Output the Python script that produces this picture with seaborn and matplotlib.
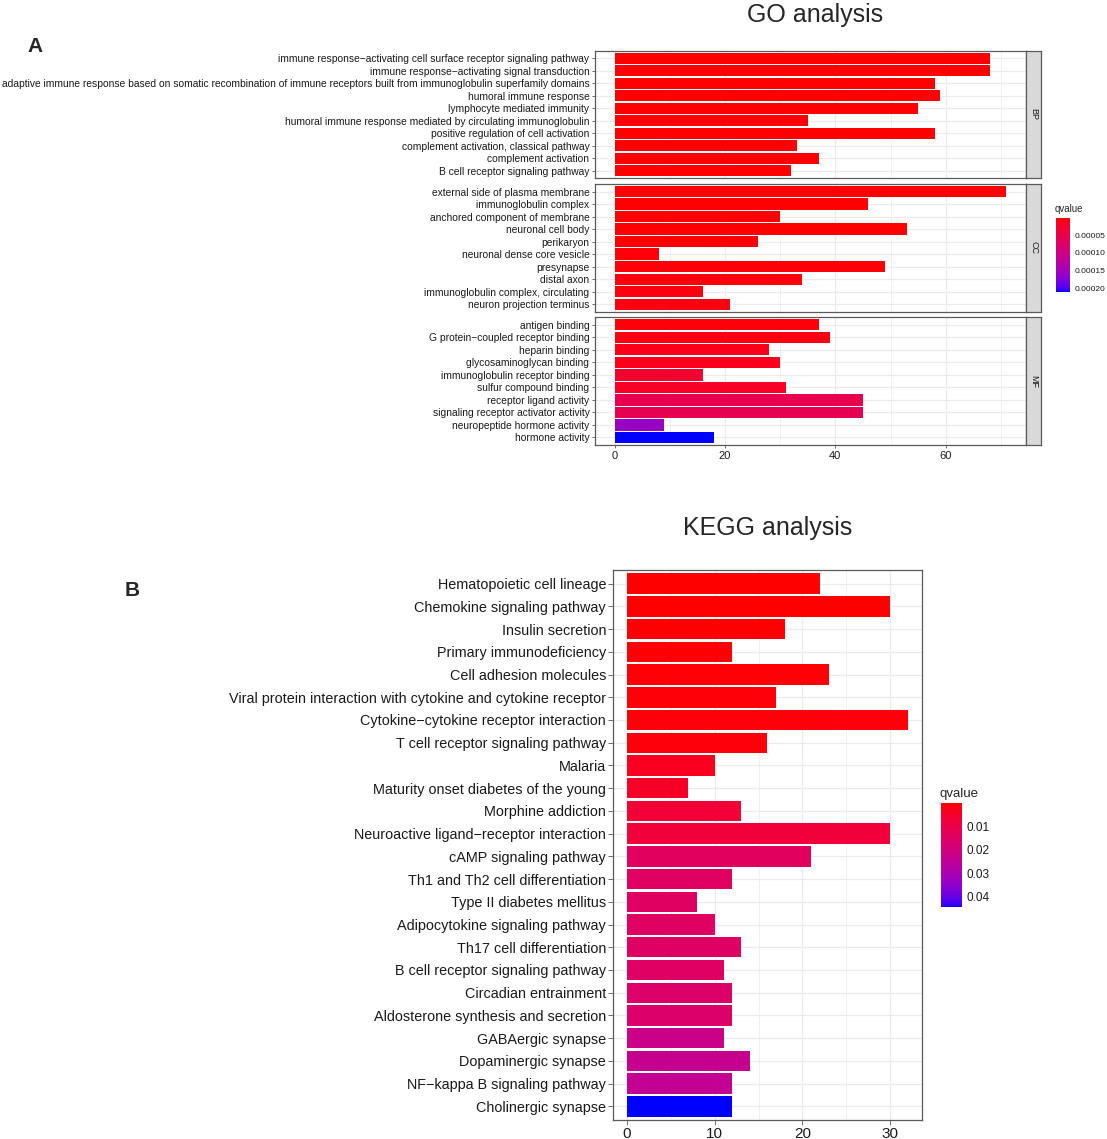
import numpy as np
import pandas as pd
import matplotlib
matplotlib.use("Agg")
import matplotlib.pyplot as plt
import seaborn as sns
from matplotlib.colors import ListedColormap, Normalize
from matplotlib.ticker import MultipleLocator

# ---------------- data ----------------
bp_terms = ["immune response\u2212activating cell surface receptor signaling pathway",
            "immune response\u2212activating signal transduction",
            "adaptive immune response based on somatic recombination of immune receptors built from immunoglobulin superfamily domains",
            "humoral immune response",
            "lymphocyte mediated immunity",
            "humoral immune response mediated by circulating immunoglobulin",
            "positive regulation of cell activation",
            "complement activation, classical pathway",
            "complement activation",
            "B cell receptor signaling pathway"]
bp_count = [68, 68, 58, 59, 55, 35, 58, 33, 37, 32]
bp_q = [1.2e-9, 2e-9, 5e-9, 8e-9, 1.5e-8, 3e-8, 5e-8, 1e-7, 2e-7, 4e-7]

cc_terms = ["external side of plasma membrane", "immunoglobulin complex",
            "anchored component of membrane", "neuronal cell body", "perikaryon",
            "neuronal dense core vesicle", "presynapse", "distal axon",
            "immunoglobulin complex, circulating", "neuron projection terminus"]
cc_count = [71, 46, 30, 53, 26, 8, 49, 34, 16, 21]
cc_q = [1e-8, 3e-8, 5e-7, 8e-7, 1.5e-6, 2.5e-6, 3e-6, 4e-6, 5e-6, 7e-6]

mf_terms = ["antigen binding", "G protein\u2212coupled receptor binding", "heparin binding",
            "glycosaminoglycan binding", "immunoglobulin receptor binding",
            "sulfur compound binding", "receptor ligand activity",
            "signaling receptor activator activity", "neuropeptide hormone activity",
            "hormone activity"]
mf_count = [37, 39, 28, 30, 16, 31, 45, 45, 9, 18]
mf_q = [4e-6, 6e-6, 1.0e-5, 1.3e-5, 2.6e-5, 1.8e-5, 5.2e-5, 5.5e-5, 1.58e-4, 2.1e-4]

kegg_terms = ["Hematopoietic cell lineage", "Chemokine signaling pathway", "Insulin secretion",
              "Primary immunodeficiency", "Cell adhesion molecules",
              "Viral protein interaction with cytokine and cytokine receptor",
              "Cytokine\u2212cytokine receptor interaction", "T cell receptor signaling pathway",
              "Malaria", "Maturity onset diabetes of the young", "Morphine addiction",
              "Neuroactive ligand\u2212receptor interaction", "cAMP signaling pathway",
              "Th1 and Th2 cell differentiation", "Type II diabetes mellitus",
              "Adipocytokine signaling pathway", "Th17 cell differentiation",
              "B cell receptor signaling pathway", "Circadian entrainment",
              "Aldosterone synthesis and secretion", "GABAergic synapse",
              "Dopaminergic synapse", "NF\u2212kappa B signaling pathway", "Cholinergic synapse"]
kegg_count = [22, 30, 18, 12, 23, 17, 32, 16, 10, 7, 13, 30, 21, 12, 8, 10, 13, 11, 12, 12, 11, 14, 12, 12]
kegg_q = [1.5e-5, 1e-4, 2e-4, 3e-4, 4e-4, 6e-4, 8e-4, 1e-3, 3e-3, 4e-3, 6.5e-3, 7e-3, 1.4e-2,
          1.45e-2, 1.45e-2, 1.47e-2, 1.5e-2, 1.5e-2, 1.58e-2, 1.62e-2, 2.2e-2, 2.35e-2, 2.4e-2, 4.43e-2]

go_ticks = [0.00005, 0.00010, 0.00015, 0.00020]
kegg_ticks = [0.01, 0.02, 0.03, 0.04]

# ---------------- red -> blue gradient in Lab (like ggplot) ----------------
M = np.array([[0.4124, 0.3576, 0.1805], [0.2126, 0.7152, 0.0722], [0.0193, 0.1192, 0.9505]])
WHITE = np.array([0.95047, 1.0, 1.08883])


def to_lab(rgb):
    c = np.asarray(rgb, float)
    lin = np.where(c <= 0.04045, c / 12.92, ((c + 0.055) / 1.055) ** 2.4)
    t = (M @ lin) / WHITE
    f = np.where(t > (6 / 29) ** 3, np.cbrt(t), t / (3 * (6 / 29) ** 2) + 4 / 29)
    return np.array([116 * f[1] - 16, 500 * (f[0] - f[1]), 200 * (f[1] - f[2])])


def from_lab(lab):
    L, a, b = lab
    fy = (L + 16) / 116
    f = np.array([fy + a / 500, fy, fy - b / 200])
    t = np.where(f > 6 / 29, f ** 3, 3 * (6 / 29) ** 2 * (f - 4 / 29))
    lin = np.clip(np.linalg.inv(M) @ (t * WHITE), 0, 1)
    c = np.where(lin <= 0.0031308, 12.92 * lin, 1.055 * lin ** (1 / 2.4) - 0.055)
    return np.clip(c, 0, 1)


lab_lo, lab_hi = to_lab([1, 0, 0]), to_lab([0, 0, 1])
cmap = ListedColormap([from_lab(lab_lo + (lab_hi - lab_lo) * s) for s in np.linspace(0, 1, 256)])

# ---------------- figure ----------------
sns.set_style("white")
plt.rcParams['font.family'] = ['Liberation Sans', 'DejaVu Sans']
W, H = 1107, 1139
fig = plt.figure(figsize=(W / 100, H / 100), dpi=100)


def box(l, t, r, b):
    return [l / W, 1 - b / H, (r - l) / W, (b - t) / H]


EDGE = "#5a5a5a"
GRID = "#EBEBEB"


def draw_bars(ax, terms, counts, qs, norm, xmax, major, minor, ysize, xsize, tlen):
    df = pd.DataFrame({"term": terms, "count": counts, "q": qs})
    pal = {t: cmap(norm(q)) for t, q in zip(terms, qs)}
    sns.barplot(data=df, x="count", y="term", hue="term", palette=pal, order=terms,
                hue_order=terms, dodge=False, legend=False, width=0.9, linewidth=0,
                saturation=1, ax=ax)
    ax.set_xlim(-xmax * 0.05, xmax * 1.05)
    ax.set_ylim(len(terms) - 1 + 0.6, -0.6)
    ax.xaxis.set_major_locator(MultipleLocator(major))
    ax.xaxis.set_minor_locator(MultipleLocator(minor))
    ax.set_axisbelow(True)
    ax.grid(True, which="major", color=GRID, lw=0.9)
    ax.grid(True, which="minor", axis="x", color=GRID, lw=0.5)
    ax.set_xlabel("")
    ax.set_ylabel("")
    ax.tick_params(axis="y", labelsize=ysize, length=tlen, width=0.6, color=EDGE, pad=1.5,
                   left=True, labelcolor="#1a1a1a")
    ax.tick_params(axis="x", labelsize=xsize, length=tlen, width=0.6, color=EDGE, pad=1.5,
                   bottom=True, labelcolor="#1a1a1a")
    ax.tick_params(which="minor", length=0)
    for s in ax.spines.values():
        s.set_visible(True)
        s.set_color(EDGE)
        s.set_linewidth(0.9)


def colorbar(cax, norm, ticks, fmt, lsize, tsize, length):
    cb = fig.colorbar(plt.cm.ScalarMappable(norm=norm, cmap=cmap), cax=cax)
    cb.outline.set_visible(False)
    cax.invert_yaxis()
    cb.set_ticks(ticks)
    cb.set_ticklabels([fmt.format(t) for t in ticks])
    cax.tick_params(axis="y", which="both", direction="in", color="white", length=length,
                    width=0.7, left=True, right=True, labelsize=lsize, pad=3, labelcolor="#1a1a1a")
    cax.minorticks_off()
    cax.set_title("qvalue", fontsize=tsize, loc="left", pad=4, x=-0.05)


# ----- GO -----
go_q_all = bp_q + cc_q + mf_q
go_norm = Normalize(min(go_q_all), max(go_q_all))
go_max = max(bp_count + cc_count + mf_count)
panels = [("BP", bp_terms, bp_count, bp_q, 50.7, 178.3),
          ("CC", cc_terms, cc_count, cc_q, 184.0, 311.7),
          ("MF", mf_terms, mf_count, mf_q, 317.3, 445.0)]
for i, (name, terms, counts, qs, top, bot) in enumerate(panels):
    ax = fig.add_axes(box(595, top, 1026, bot))
    draw_bars(ax, terms, counts, qs, go_norm, go_max, 20, 10, 7.4, 8, 2.5)
    if i < 2:
        ax.tick_params(axis="x", labelbottom=False, bottom=False)
    sax = fig.add_axes(box(1026, top, 1041, bot))
    sax.set_xticks([])
    sax.set_yticks([])
    sax.set_facecolor("#D9D9D9")
    for s in sax.spines.values():
        s.set_color(EDGE)
        s.set_linewidth(0.9)
    sax.text(0.5, 0.5, name, rotation=-90, ha="center", va="center", fontsize=6.5,
             color="#1a1a1a", transform=sax.transAxes)

gcax = fig.add_axes(box(1055.7, 217.7, 1070, 291.7))
colorbar(gcax, go_norm, go_ticks, "{:.5f}", 6, 7, 3)

# ----- KEGG -----
k_norm = Normalize(min(kegg_q), max(kegg_q))
kax = fig.add_axes(box(613, 570, 921.7, 1120))
draw_bars(kax, kegg_terms, kegg_count, kegg_q, k_norm, max(kegg_count), 10, 5, 10.4, 11, 3.5)

kcax = fig.add_axes(box(941, 803, 962, 907))
colorbar(kcax, k_norm, kegg_ticks, "{:.2f}", 8.5, 9.5, 4)

# ----- titles & panel letters -----
fig.text(815 / W, 1 - 15 / H, "GO analysis", ha="center", va="center", fontsize=18)
fig.text(768 / W, 1 - 528 / H, "KEGG analysis", ha="center", va="center", fontsize=18)
fig.text(35 / W, 1 - 47 / H, "A", ha="center", va="center", fontsize=15, fontweight="bold")
fig.text(132 / W, 1 - 590 / H, "B", ha="center", va="center", fontsize=15, fontweight="bold")

fig.savefig("out.png", dpi=100)
